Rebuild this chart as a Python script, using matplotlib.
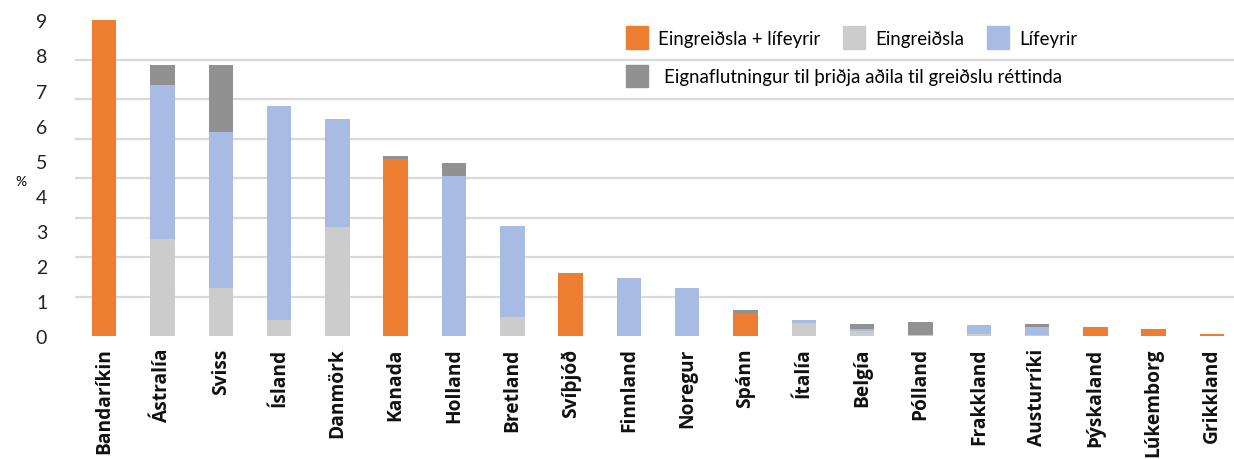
import numpy as np
import matplotlib
matplotlib.use("Agg")
import matplotlib.pyplot as plt
from matplotlib.patches import Patch

# lönd
countries = ["Bandaríkin", "Ástralía", "Sviss", "Ísland", "Danmörk", "Kanada",
             "Holland", "Bretland", "Svíþjóð", "Finnland", "Noregur", "Spánn",
             "Ítalía", "Belgía", "Pólland", "Frakkland", "Austurríki",
             "Þýskaland", "Lúkemborg", "Grikkland"]

# % (lesið af myndinni)
combined = [9.0, 0, 0, 0, 0, 5.06, 0, 0, 1.80, 0, 0, 0.67, 0, 0, 0, 0, 0, 0.26, 0.21, 0.07]
lump_sum = [0, 2.78, 1.38, 0.47, 3.11, 0, 0, 0.55, 0, 0, 0, 0, 0.39, 0.15, 0.03, 0.07, 0.04, 0, 0, 0]
pension = [0, 4.38, 4.44, 6.09, 3.08, 0, 4.57, 2.59, 0, 1.66, 1.38, 0, 0.07, 0.06, 0, 0.25, 0.22, 0, 0, 0]
transfer = [0, 0.57, 1.91, 0, 0, 0.08, 0.37, 0, 0, 0, 0, 0.08, 0, 0.14, 0.38, 0, 0.09, 0, 0, 0]

yticks = list(range(0, 10))

c_orange = "#ED7D31"
c_light = "#CCCCCC"
c_blue = "#A8BBE3"
c_dark = "#919191"
grid_c = "#D9D9D9"

plt.rcParams['font.family'] = ['Lato', 'DejaVu Sans']

fig = plt.figure(figsize=(12.34, 4.6), dpi=100)
ax = fig.add_axes([0.0608, 0.2667, 0.945, 0.687])

x = np.arange(len(countries))
w = 0.42
combined = np.array(combined)
lump_sum = np.array(lump_sum)
pension = np.array(pension)
transfer = np.array(transfer)

ax.bar(x, combined, w, color=c_orange, zorder=3)
ax.bar(x, lump_sum, w, color=c_light, zorder=3)
ax.bar(x, pension, w, bottom=lump_sum, color=c_blue, zorder=3)
ax.bar(x, transfer, w, bottom=combined + lump_sum + pension, color=c_dark, zorder=3)

ax.set_xlim(-0.5, len(countries) - 0.5)
ax.set_ylim(0, 9)
ax.set_yticks(yticks)
ax.set_yticklabels([str(v) for v in yticks], fontsize=14, color="#222222")
# gridlínur í excel falla ekki að merkingunum
ax.set_yticks(np.linspace(0, 9, 9), minor=True)
ax.grid(False)
ax.yaxis.grid(True, which="minor", color=grid_c, linewidth=1.6, zorder=0)
ax.tick_params(axis="y", which="both", length=0, pad=20)
ax.tick_params(axis="x", length=0, pad=8)
ax.set_xticks(x)
ax.set_xticklabels(countries, rotation=90, fontsize=13.8, fontweight="bold",
                   family=["Open Sans", "DejaVu Sans"], color="#111111")

for s in ax.spines.values():
    s.set_visible(False)

fig.text(0.017, 0.605, "%", fontsize=10, ha="center", va="center")

h1 = [Patch(color=c_orange), Patch(color=c_light), Patch(color=c_blue)]
leg1 = ax.legend(h1, ["Eingreiðsla + lífeyrir", "Eingreiðsla", "Lífeyrir"],
                 ncol=3, frameon=False, fontsize=13.4,
                 loc="upper left", bbox_to_anchor=(0.507, 0.941),
                 bbox_transform=fig.transFigure,
                 handlelength=1.2, handleheight=1.5, handletextpad=0.55,
                 columnspacing=1.2, borderpad=0, borderaxespad=0)
ax.add_artist(leg1)
ax.legend([Patch(color=c_dark)], ["Eignaflutningur til þriðja aðila til greiðslu réttinda"],
          frameon=False, fontsize=13.4, loc="upper left",
          bbox_to_anchor=(0.507, 0.857), bbox_transform=fig.transFigure,
          handlelength=1.2, handleheight=1.5, handletextpad=0.85,
          borderpad=0, borderaxespad=0)

fig.savefig("out.png", dpi=100)
